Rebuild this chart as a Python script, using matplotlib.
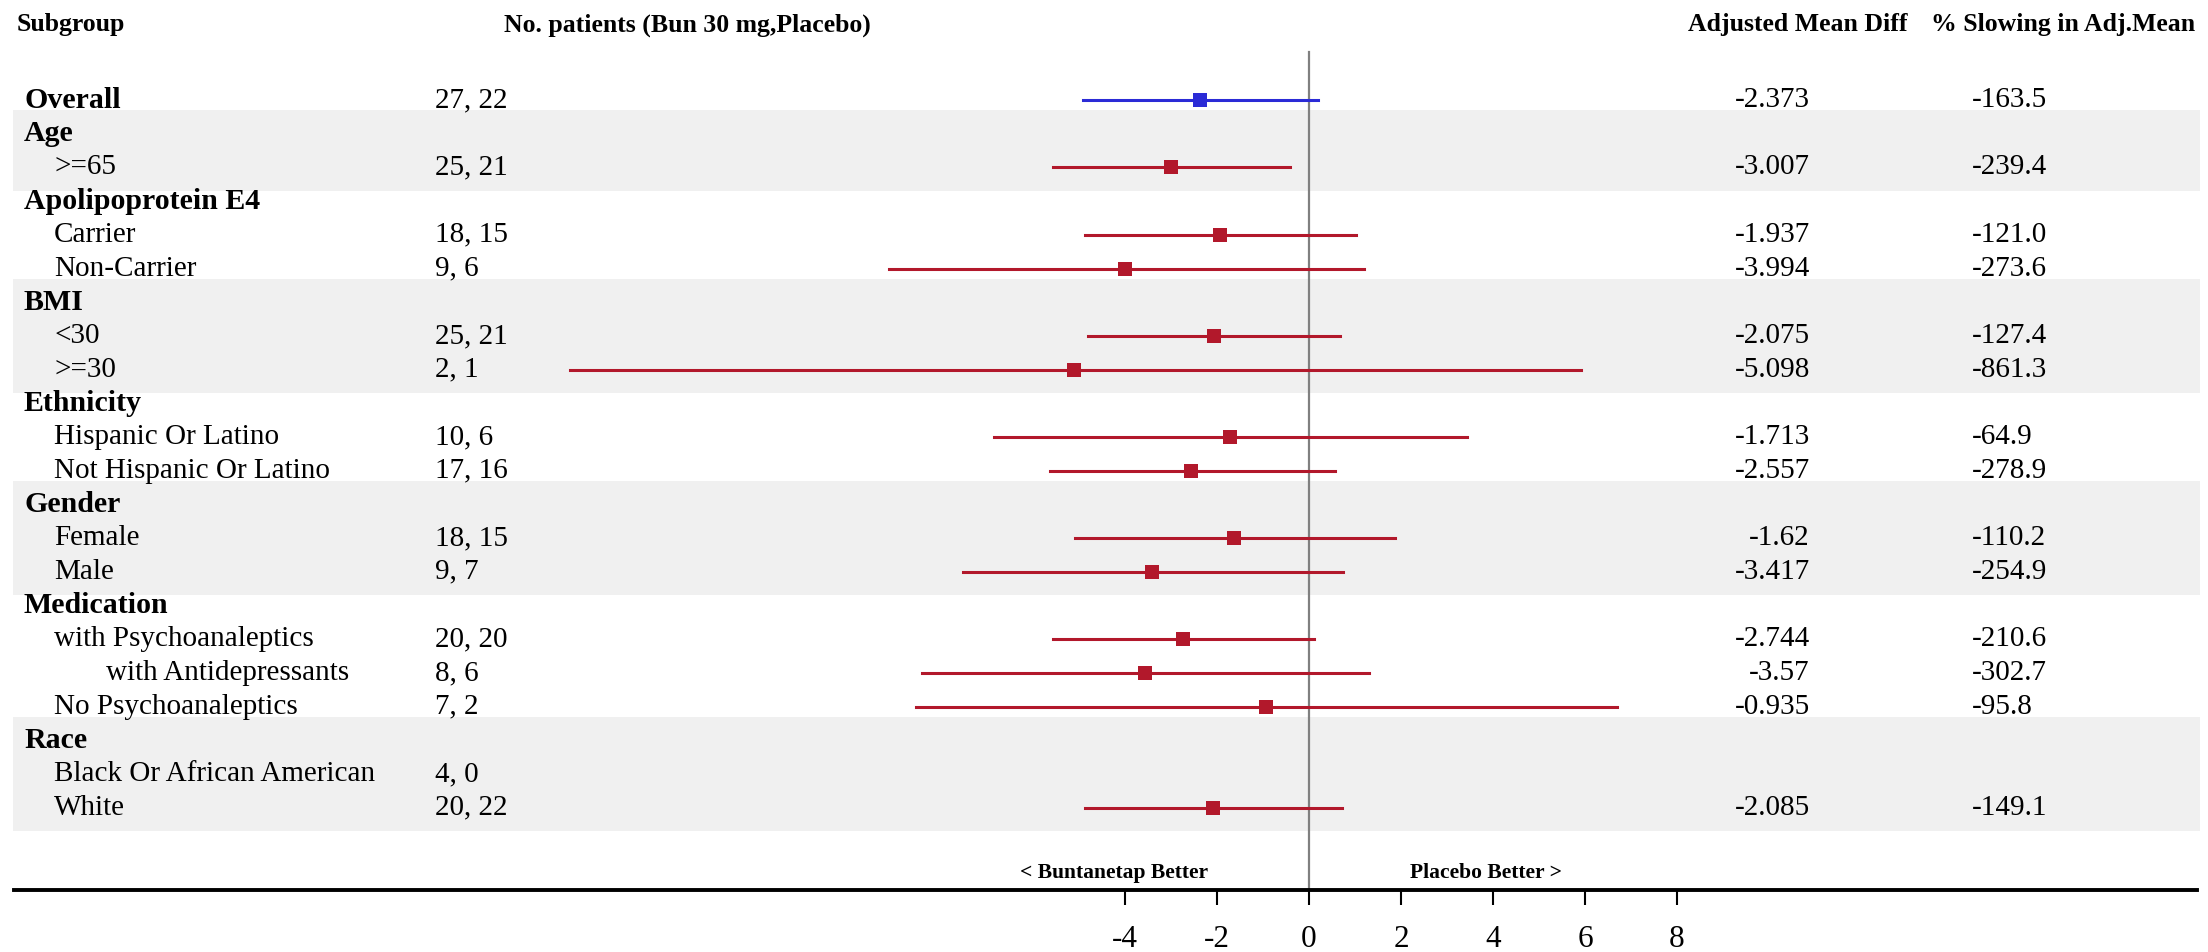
import numpy as np
import matplotlib; matplotlib.use('Agg'); import matplotlib.pyplot as plt
import matplotlib.transforms as mtransforms

plt.rcParams['font.family'] = ['Liberation Serif', 'DejaVu Serif']

# ---------- data ----------
labels = ['Overall', 'Age', '>=65', 'Apolipoprotein E4', 'Carrier', 'Non-Carrier',
          'BMI', '<30', '>=30', 'Ethnicity', 'Hispanic Or Latino', 'Not Hispanic Or Latino',
          'Gender', 'Female', 'Male', 'Medication', 'with Psychoanaleptics',
          'with Antidepressants', 'No Psychoanaleptics', 'Race',
          'Black Or African American', 'White']
level = [0, 0, 1, 0, 1, 1, 0, 1, 1, 0, 1, 1, 0, 1, 1, 0, 1, 2, 1, 0, 1, 1]
n_pat = ['27, 22', '', '25, 21', '', '18, 15', '9, 6', '', '25, 21', '2, 1', '',
         '10, 6', '17, 16', '', '18, 15', '9, 7', '', '20, 20', '8, 6', '7, 2', '',
         '4, 0', '20, 22']
nan = np.nan
est = [-2.373, nan, -3.007, nan, -1.937, -3.994, nan, -2.075, -5.098, nan, -1.713, -2.557,
       nan, -1.62, -3.417, nan, -2.744, -3.57, -0.935, nan, nan, -2.085]
ci_lo = [-4.91, nan, -5.56, nan, -4.88, -9.13, nan, -4.81, -16.07, nan, -6.84, -5.64,
         nan, -5.09, -7.52, nan, -5.57, -8.41, -8.55, nan, nan, -4.86]
ci_hi = [0.20, nan, -0.42, nan, 1.03, 1.20, nan, 0.68, 5.92, nan, 3.44, 0.57,
         nan, 1.88, 0.73, nan, 0.11, 1.31, 6.70, nan, nan, 0.72]
amd_txt = ['-2.373', '', '-3.007', '', '-1.937', '-3.994', '', '-2.075', '-5.098', '',
           '-1.713', '-2.557', '', '-1.62', '-3.417', '', '-2.744', '-3.57', '-0.935', '',
           '', '-2.085']
slow_txt = ['-163.5', '', '-239.4', '', '-121.0', '-273.6', '', '-127.4', '-861.3', '',
            '-64.9', '-278.9', '', '-110.2', '-254.9', '', '-210.6', '-302.7', '-95.8', '',
            '', '-149.1']
shaded = [(1, 2), (6, 8), (12, 14), (19, 21)]   # Age, BMI, Gender, Race
xticks = [-4, -2, 0, 2, 4, 6, 8]

# ---------- layout ----------
W, H = 2208, 952
fig = plt.figure(figsize=(W/100, H/100), dpi=100)
ax_bot = 890  # pixel row of the x axis line
ax = fig.add_axes([0, (H-ax_bot)/H, 1, ax_bot/H])
row0, dy, unit, x0 = 100, 33.7, 46, 1309
ax.set_xlim(-x0/unit, (W-x0)/unit)
ax.set_ylim((ax_bot-row0)/dy, -row0/dy)

for s in ['top', 'left', 'right']: ax.spines[s].set_visible(False)
ax.spines['bottom'].set_linewidth(2.8)
ax.spines['bottom'].set_bounds((14-x0)/unit, (2197-x0)/unit)
ax.set_yticks([])
ax.set_xticks(xticks)
ax.set_xticklabels([str(t) for t in xticks], fontsize=22.5)
ax.tick_params(axis='x', direction='out', length=11, width=1.5, pad=14)

# background bands
for a, b in shaded:
    ax.axhspan(a-0.7, b+0.7, xmin=13/W, xmax=2200/W, color='#f0f0f0', lw=0, zorder=0)

# zero reference
ax.plot([0, 0], [-1.42, (ax_bot-row0)/dy], color='#808080', lw=1.6, zorder=1)

# CIs and points
y = np.arange(len(labels))
for i in range(len(labels)):
    if np.isnan(est[i]): continue
    c = '#2b2bd6' if i == 0 else '#b2182b'
    ax.plot([ci_lo[i], ci_hi[i]], [y[i], y[i]], color=c, lw=2.2, zorder=2)
    ax.plot(est[i], y[i], 's', color=c, ms=9.5, mew=0, zorder=3)

# text columns
tr = mtransforms.blended_transform_factory(fig.transFigure, ax.transData)
hy = (25-row0)/dy
ax.text(17/W, hy, 'Subgroup', transform=tr, fontsize=18.5, weight='bold', va='center')
ax.text(504/W, hy, 'No. patients (Bun 30 mg,Placebo)', transform=tr, fontsize=18.5,
        weight='bold', va='center')
ax.text(1688/W, hy, 'Adjusted Mean Diff', transform=tr, fontsize=18.5, weight='bold', va='center')
ax.text(1931/W, hy, '% Slowing in Adj.Mean', transform=tr, fontsize=18.5, weight='bold', va='center')

indent = {0: 24, 1: 54, 2: 106}
for i, lab in enumerate(labels):
    bold = level[i] == 0
    ax.text(indent[level[i]]/W, y[i], lab, transform=tr, fontsize=21.5 if bold else 21,
            weight='bold' if bold else 'normal', va='center')
    if n_pat[i]: ax.text(435/W, y[i], n_pat[i], transform=tr, fontsize=21, va='center')
    if amd_txt[i]: ax.text(1810/W, y[i], amd_txt[i], transform=tr, fontsize=21, va='center', ha='right')
    if slow_txt[i]: ax.text(1972/W, y[i], slow_txt[i], transform=tr, fontsize=21, va='center')

by = (873-row0)/dy
ax.text(-2.2, by, '< Buntanetap Better', fontsize=15.5, weight='bold', ha='right', va='center')
ax.text(2.2, by, 'Placebo Better >', fontsize=15.5, weight='bold', ha='left', va='center')

fig.savefig('out.png', dpi=100)
